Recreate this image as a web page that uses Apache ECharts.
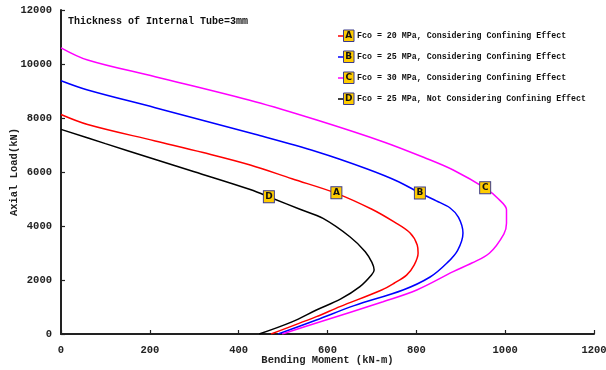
<!DOCTYPE html>
<html>
<head>
<meta charset="utf-8">
<script src="https://cdn.jsdelivr.net/npm/echarts@6/dist/echarts.min.js"></script>
<style>html,body{margin:0;padding:0;background:#fff}#c{width:606px;height:370px}</style>
</head>
<body>
<div id="c"></div>
<script>
// ---- data ----
var curveNames = [
  'Fco = 20 MPa, Considering Confining Effect',
  'Fco = 25 MPa, Considering Confining Effect',
  'Fco = 30 MPa, Considering Confining Effect',
  'Fco = 25 MPa, Not Considering Confining Effect'
];
var curveLetters = ['A', 'B', 'C', 'D'];
var curveColors = ['#ff0000', '#0000ff', '#ff00ff', '#000000'];

// [bending moment (kN-m), axial load (kN)]
var curveA = [[0,8130],[60,7760],[212,7150],[320,6720],[426,6259],[520,5750],[620,5210],[700,4620],[750,4150],[786,3741],[802,3300],[804,3000],[795,2550],[778,2180],[750,1880],[722,1630],[628,1012],[575,642],[473,0]];
var curveB = [[0,9380],[60,9037],[212,8383],[437,7395],[576,6750],[688,6120],[760,5640],[808,5222],[845,4930],[876,4667],[895,4320],[905,3741],[893,3100],[869,2630],[831,2111],[770,1630],[660,1050],[575,518],[489,0]];
var curveC = [[0,10600],[60,10148],[212,9530],[437,8604],[576,7926],[725,7123],[820,6520],[883,6074],[955,5400],[985,5000],[1003,4600],[1003,4100],[997,3700],[965,3000],[925,2630],[883,2309],[801,1630],[725,1196],[575,407],[498,0]];
var curveD = [[0,7580],[100,7050],[200,6530],[300,6010],[426,5350],[477,5020],[538,4620],[590,4280],[651,3593],[685,3050],[700,2650],[705,2370],[699,2185],[673,1753],[630,1300],[575,889],[520,450],[446,0]];
var curves = [curveA, curveB, curveC, curveD];

// marker positions on each curve
var markerPoints = [[620,5230],[808,5222],[955,5420],[468,5086]];

var xTicks = {min: 0, max: 1200, interval: 200};
var yTicks = {min: 0, max: 12000, interval: 2000};
var titleText = 'Thickness of Internal Tube=3mm';
var xName = 'Bending Moment (kN-m)';
var yName = 'Axial Load(kN)';

// ---- chart ----
var chart = echarts.init(document.getElementById('c'));
var mono = 'Liberation Mono, Courier New, monospace';
var markerFill = '#ffcc00';
var markerBorder = '#3a3a8c';

var series = curves.map(function (d, i) {
  return {
    type: 'line',
    name: curveNames[i],
    data: d,
    smooth: 0.35,
    showSymbol: false,
    symbol: 'none',
    lineStyle: {color: curveColors[i], width: 1.5},
    z: 2,
    markPoint: {
      symbol: 'rect',
      symbolSize: [11, 12],
      itemStyle: {color: markerFill, borderColor: markerBorder, borderWidth: 1},
      label: {show: true, position: 'inside', formatter: curveLetters[i], color: '#111', fontSize: 9, fontWeight: 'bold', fontFamily: 'DejaVu Sans'},
      data: [{coord: markerPoints[i]}],
      animation: false
    }
  };
});

var graphics = [{
  type: 'text', left: 68, top: 16,
  style: {text: titleText, font: 'bold 10px ' + mono, fill: '#111'}
}];
var legendTop = 36, legendStep = 21;
curveNames.forEach(function (n, i) {
  var cy = legendTop + i * legendStep;
  graphics.push({type: 'line', shape: {x1: 338, y1: cy, x2: 344, y2: cy}, style: {stroke: curveColors[i], lineWidth: 1.5}});
  graphics.push({type: 'rect', shape: {x: 343.5, y: cy - 6, width: 10.5, height: 11.5}, style: {fill: markerFill, stroke: markerBorder, lineWidth: 1}});
  graphics.push({type: 'text', x: 348.75, y: cy, style: {text: curveLetters[i], font: 'bold 9px DejaVu Sans', fill: '#111', align: 'center', verticalAlign: 'middle'}});
  graphics.push({type: 'text', x: 357, y: cy, style: {text: n, font: 'bold 8.3px ' + mono, fill: '#111', align: 'left', verticalAlign: 'middle'}});
});

var axisCommon = {
  axisLine: {show: true, lineStyle: {color: '#222', width: 2}},
  axisTick: {show: true, inside: true, length: 4, lineStyle: {color: '#222', width: 1.2}},
  splitLine: {show: false},
  axisLabel: {fontFamily: mono, fontWeight: 'bold', fontSize: 10.5, color: '#222', formatter: function (v) { return String(v); }},
  nameLocation: 'middle',
  nameMoveOverlap: false,
  nameTextStyle: {fontFamily: mono, fontWeight: 'bold', fontSize: 10.5, color: '#222'}
};

chart.setOption({
  animation: false,
  backgroundColor: '#fff',
  grid: {left: 61, right: 12, top: 10, bottom: 36, containLabel: false, outerBoundsMode: 'none'},
  xAxis: Object.assign({}, axisCommon, {
    type: 'value', min: xTicks.min, max: xTicks.max, interval: xTicks.interval,
    name: xName, nameGap: 21,
    axisLabel: Object.assign({}, axisCommon.axisLabel, {margin: 11})
  }),
  yAxis: Object.assign({}, axisCommon, {
    type: 'value', min: yTicks.min, max: yTicks.max, interval: yTicks.interval,
    name: yName, nameGap: 41,
    axisLabel: Object.assign({}, axisCommon.axisLabel, {margin: 9})
  }),
  series: series,
  graphic: graphics
});
</script>
</body>
</html>
